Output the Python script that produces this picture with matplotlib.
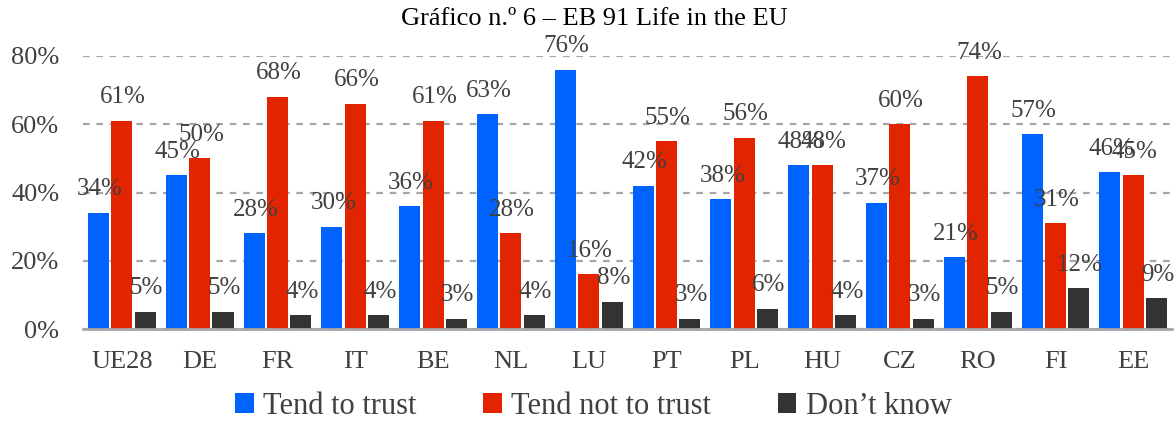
import matplotlib
matplotlib.use("Agg")
import matplotlib.pyplot as plt
import numpy as np

categories = ["UE28", "DE", "FR", "IT", "BE", "NL", "LU", "PT", "PL", "HU", "CZ", "RO", "FI", "EE"]
trust = [34, 45, 28, 30, 36, 63, 76, 42, 38, 48, 37, 21, 57, 46]
not_trust = [61, 50, 68, 66, 61, 28, 16, 55, 56, 48, 60, 74, 31, 45]
dont_know = [5, 5, 4, 4, 3, 4, 8, 3, 6, 4, 3, 5, 12, 9]
series_names = ["Tend to trust", "Tend not to trust", "Don\u2019t know"]
colors = ["#0062FF", "#E32400", "#333333"]
title = "Gr\u00e1fico n.\u00ba 6 \u2013 EB 91 Life in the EU"

plt.rcParams["font.family"] = ["Liberation Serif", "DejaVu Serif"]
txt = "#404040"

fig = plt.figure(figsize=(11.75, 4.21), dpi=100)
ax = fig.add_axes([0.0706, 0.2185, 0.927, 0.6485])

x = np.arange(len(categories))
w = 0.27
step = 0.30
for i, (vals, name, c) in enumerate(zip([trust, not_trust, dont_know], series_names, colors)):
    pos = x + (i - 1) * step
    ax.bar(pos, vals, width=w, color=c, label=name, zorder=3)
    for p, v in zip(pos, vals):
        ax.annotate(f"{v}%", (p, v), xytext=(1, 9), textcoords="offset points",
                    ha="center", va="bottom", fontsize=18, color=txt, zorder=4)

ax.set_xlim(-0.5, len(categories) - 0.5)
ax.set_ylim(0, 80)
ax.set_yticks([0, 20, 40, 60, 80])
ax.set_yticklabels(["0%", "20%", "40%", "60%", "80%"])
ax.set_xticks(x)
ax.set_xticklabels(categories)
ax.tick_params(axis="both", length=0, labelsize=19, colors=txt)
ax.tick_params(axis="x", pad=16)
ax.tick_params(axis="y", pad=17)
ax.yaxis.grid(True, linestyle=(0, (3, 3)), color="#A6A6A6", linewidth=1.6, zorder=0)
for s in ["top", "right", "left"]:
    ax.spines[s].set_visible(False)
ax.spines["bottom"].set_color("#A6A6A6")
ax.spines["bottom"].set_linewidth(2)
ax.spines["bottom"].set_zorder(5)

fig.text(0.506, 0.955, title, ha="center", va="center", fontsize=19, color="black")

leg = fig.legend(loc="center", bbox_to_anchor=(0.505, 0.035), ncol=3, frameon=False,
                 fontsize=22, handlelength=0.6, handleheight=0.6, handletextpad=0.3,
                 columnspacing=2.2, labelcolor=txt)

fig.savefig("out.png", dpi=100)
